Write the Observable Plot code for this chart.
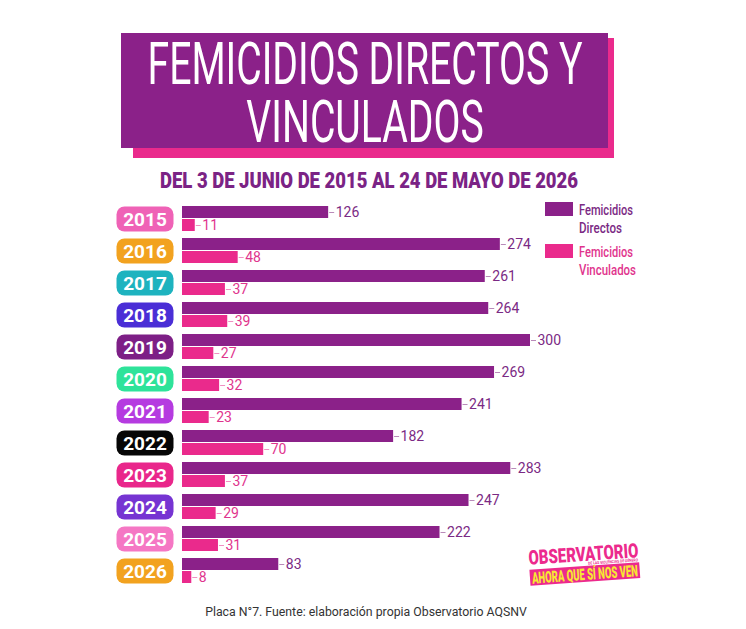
<!DOCTYPE html>
<html lang="es">
<head>
<meta charset="utf-8">
<script src="https://cdn.jsdelivr.net/npm/d3@7"></script>
<script src="https://cdn.jsdelivr.net/npm/@observablehq/plot@0.6"></script>
<style>
  html, body { margin: 0; padding: 0; background: #fff; }
  #page { position: relative; width: 746px; height: 629px; overflow: hidden; background: #fff; font-family: Roboto, sans-serif; }
  #chart { position: absolute; left: 0; top: 188px; }
  #deco { position: absolute; left: 0; top: 0; pointer-events: none; }
  #title {
    position: absolute; left: -35px; top: 34.8px; width: 800px; margin: 0;
    font: 400 59px/58px Roboto, sans-serif; color: #fff; text-align: center;
    white-space: pre; transform-origin: 50% 0;
  }
</style>
</head>
<body>
<div id="page">
  <div id="chart"></div>
  <svg id="deco" width="746" height="629"></svg>
  <h1 id="title"></h1>
</div>
<script>
// Femicidios por año (3 jun 2015 – 24 may 2026)
const years = ["2015","2016","2017","2018","2019","2020","2021","2022","2023","2024","2025","2026"];
const directos = [126, 274, 261, 264, 300, 269, 241, 182, 283, 247, 222, 83];
const vinculados = [11, 48, 37, 39, 27, 32, 23, 70, 37, 29, 31, 8];
const yearColors = ["#ef62b6","#f2a21f","#1eb3bf","#4a2ed6","#7d1f86","#2ee39a","#b53be0","#060606","#e9278b","#7634d2","#f577c4","#f2a21f"];
const seriesNames = ["Femicidios Directos", "Femicidios Vinculados"];
const seriesColors = ["#8b2189", "#ea2a8c"];
const labelColors = ["#7b2a84", "#df348d"];
const dashColors = ["#b98ab9", "#f08fc2"];

const title = ["FEMICIDIOS DIRECTOS Y", "VINCULADOS"];
const subtitle = "DEL 3 DE JUNIO DE 2015 AL 24 DE MAYO DE 2026";
const caption = "Placa N°7. Fuente: elaboración propia Observatorio AQSNV";

const rows = years.flatMap((year, i) => [
  {year, serie: 0, value: directos[i]},
  {year, serie: 1, value: vinculados[i]}
]);

// rounded "pill" behind each year label
const pill = {
  draw(ctx) {
    const w = 57, h = 25, r = 8;
    const x0 = -w / 2, y0 = -h / 2, x1 = w / 2, y1 = h / 2;
    ctx.moveTo(x0 + r, y0);
    ctx.lineTo(x1 - r, y0);
    ctx.arcTo(x1, y0, x1, y0 + r, r);
    ctx.lineTo(x1, y1 - r);
    ctx.arcTo(x1, y1, x1 - r, y1, r);
    ctx.lineTo(x0 + r, y1);
    ctx.arcTo(x0, y1, x0, y1 - r, r);
    ctx.lineTo(x0, y0 + r);
    ctx.arcTo(x0, y0, x0 + r, y0, r);
    ctx.closePath();
  }
};

const chart = Plot.plot({
  width: 746,
  height: 401,
  marginTop: 11,
  marginBottom: 0,
  marginLeft: 182,
  marginRight: 216,
  style: {fontFamily: "Roboto, sans-serif", background: "transparent"},
  x: {domain: [0, 300], axis: null},
  y: {domain: [0, 1], axis: null, paddingInner: 0.08, paddingOuter: 0},
  fy: {domain: years, axis: null, paddingInner: 0.23, paddingOuter: 0.115},
  marks: [
    Plot.barX(rows, {fy: "year", y: "serie", x: "value", fill: d => seriesColors[d.serie]}),
    Plot.ruleY(rows, {fy: "year", y: "serie", x1: "value", x2: "value", insetLeft: 1, insetRight: -6,
      stroke: d => dashColors[d.serie], strokeWidth: 1}),
    Plot.text(rows, {fy: "year", y: "serie", x: "value", text: d => String(d.value), dx: 7,
      textAnchor: "start", fontSize: 14, fill: d => labelColors[d.serie], ariaLabel: "value labels"}),
    Plot.dot(years, {fy: d => d, frameAnchor: "left", dx: -37.5, symbol: pill,
      fill: (d, i) => yearColors[i], ariaLabel: "year pills"}),
    Plot.text(years, {fy: d => d, frameAnchor: "left", dx: -37.5, dy: 1, text: d => d, textAnchor: "middle",
      fill: "white", fontSize: 19, fontWeight: "bold", ariaLabel: "year labels"})
  ]
});

// condensed look for the labels
chart.querySelectorAll('g[aria-label="year labels"] text').forEach(t => {
  t.setAttribute("textLength", 34);
  t.setAttribute("lengthAdjust", "spacingAndGlyphs");
});
chart.querySelectorAll('g[aria-label="value labels"] text').forEach(t => {
  t.setAttribute("textLength", 6.2 * t.textContent.length);
  t.setAttribute("lengthAdjust", "spacingAndGlyphs");
});
document.getElementById("chart").append(chart);

// header, legend, logo and caption
const deco = d3.select("#deco");
const cond = (sel, len) => sel.attr("textLength", len).attr("lengthAdjust", "spacingAndGlyphs");

deco.append("rect").attr("x", 133).attr("y", 38).attr("width", 481).attr("height", 120).attr("fill", "#ea2a8c");
deco.append("rect").attr("x", 121).attr("y", 33).attr("width", 487).attr("height", 115).attr("fill", "#8b2189");

// two-line title, narrowed horizontally
const titleEl = document.getElementById("title");
titleEl.textContent = title.join("\n");
const ctx2d = document.createElement("canvas").getContext("2d");
ctx2d.font = "400 59px Roboto";
const sx = 435 / ctx2d.measureText(title[0]).width;
titleEl.style.transform = `scaleX(${sx})`;

cond(deco.append("text").attr("x", 160).attr("y", 188).attr("fill", "#7b2385")
  .attr("font-size", 22.5).attr("font-weight", 900).attr("font-family", "Roboto").text(subtitle), 418);

// legend
const legend = deco.append("g").attr("font-family", "Roboto").attr("font-size", 15).attr("font-weight", 500);
const legendLines = [["Femicidios", "Directos"], ["Femicidios", "Vinculados"]];
const legendWidths = [[54, 43], [54, 57]];
seriesNames.forEach((name, i) => {
  const y0 = 202 + i * 42;
  legend.append("rect").attr("x", 545).attr("y", y0).attr("width", 28).attr("height", 14).attr("fill", seriesColors[i]);
  legendLines[i].forEach((line, j) => {
    cond(legend.append("text").attr("x", 579).attr("y", y0 + 13 + j * 17.5)
      .attr("fill", labelColors[i]).text(line), legendWidths[i][j]);
  });
});

// logo
const logo = deco.append("g").attr("transform", "rotate(-4 584 562)").attr("font-family", "Roboto").attr("font-weight", 900);
cond(logo.append("text").attr("x", 529).attr("y", 561).attr("font-size", 20).attr("fill", "#ec2a8d").text("OBSERVATORIO"), 110);
cond(logo.append("text").attr("x", 588).attr("y", 565).attr("font-size", 4).attr("font-weight", 700)
  .attr("fill", "#ec2a8d").text("DE LAS VIOLENCIAS DE GÉNERO"), 50);
logo.append("rect").attr("x", 529).attr("y", 566).attr("width", 110).attr("height", 16).attr("fill", "#ec2a8d");
cond(logo.append("text").attr("x", 531).attr("y", 580).attr("font-size", 16).attr("fill", "#f7e832").text("AHORA QUE SÍ NOS VEN"), 106);

// caption
deco.append("text").attr("x", 366).attr("y", 616).attr("text-anchor", "middle")
  .attr("font-family", "Roboto").attr("font-size", 12.3).attr("fill", "#333").text(caption);
</script>
</body>
</html>
